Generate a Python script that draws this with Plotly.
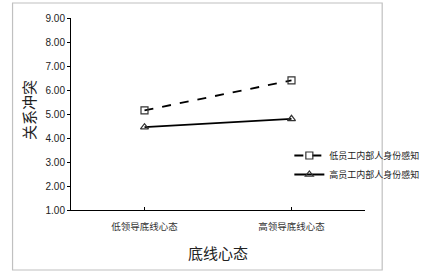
import plotly.graph_objects as go

categories = ["低领导底线心态", "高领导底线心态"]
series_names = ["低员工内部人身份感知", "高员工内部人身份感知"]
low_identity = [5.15, 6.40]
high_identity = [4.45, 4.80]
y_ticks = [1, 2, 3, 4, 5, 6, 7, 8, 9]
y_title = "关系冲突"
x_title = "底线心态"

W, H = 437, 276
L, R, T, B = 71, 24, 18, 66
pw, ph = W - L - R, H - T - B

def px_x(p):
    return (p - L) / pw

def px_y(p):
    return (H - B - p) / ph

cjk = "Noto Sans CJK SC"
fig = go.Figure()
fig.add_trace(go.Scatter(
    x=[0, 1], y=low_identity, name=series_names[0], mode="lines+markers",
    line=dict(color="black", width=1.8, dash="dash"),
    marker=dict(symbol="square-open", size=7, color="#333333", line=dict(width=1.2)),
))
fig.add_trace(go.Scatter(
    x=[0, 1], y=high_identity, name=series_names[1], mode="lines+markers",
    line=dict(color="black", width=1.8),
    marker=dict(symbol="triangle-up-open", size=7, color="#333333", line=dict(width=1.2)),
))

fig.update_layout(
    width=W, height=H,
    margin=dict(l=L, r=R, t=T, b=B),
    paper_bgcolor="white", plot_bgcolor="white",
    showlegend=True,
    legend=dict(x=px_x(325), y=px_y(141), xanchor="left", yanchor="top",
                font=dict(family=cjk, size=9, color="#222"),
                bgcolor="rgba(0,0,0,0)", tracegroupgap=0, itemwidth=30),
    xaxis=dict(range=[-0.5, 1.5], tickmode="array", tickvals=[0, 1, 1.5],
               ticktext=[categories[0], categories[1], ""],
               showline=True, linecolor="black", linewidth=1,
               ticks="inside", ticklen=3, tickcolor="black",
               showgrid=False, zeroline=False, ticklabelstandoff=8,
               tickfont=dict(family=cjk, size=9.5, color="#333")),
    yaxis=dict(range=[1, 9], tickmode="array", tickvals=y_ticks,
               ticktext=[f"{v:.2f}" for v in y_ticks],
               showline=True, linecolor="black", linewidth=1,
               ticks="outside", ticklen=3, tickcolor="black",
               showgrid=False, zeroline=False,
               tickfont=dict(family="Liberation Sans", size=10, color="#222")),
    shapes=[dict(type="rect", xref="paper", yref="paper",
                 x0=px_x(3), x1=px_x(433), y0=px_y(270), y1=px_y(3),
                 line=dict(color="#c0c0c0", width=1.2), fillcolor="rgba(0,0,0,0)",
                 layer="below")],
    annotations=[
        dict(text=y_title, xref="paper", yref="paper", x=px_x(21), y=px_y(110),
             textangle=-90, showarrow=False, xanchor="center", yanchor="middle",
             font=dict(family=cjk, size=15, color="#222")),
        dict(text=x_title, xref="paper", yref="paper", x=0.5, y=px_y(252),
             showarrow=False, xanchor="center", yanchor="middle",
             font=dict(family=cjk, size=15, color="#222")),
    ],
)

fig.write_html("out.html", config={"displayModeBar": False},
               post_script="document.body.style.margin='0';document.body.style.padding='0';")
